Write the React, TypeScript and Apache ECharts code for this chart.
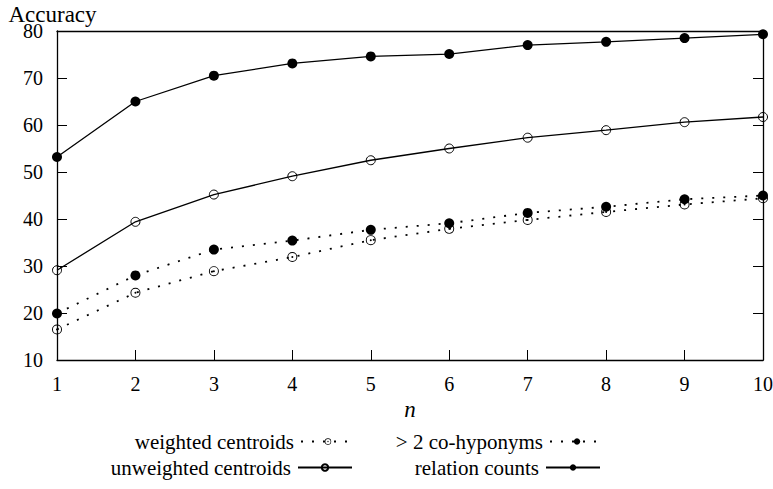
import React, { useEffect, useRef } from "react";
import * as echarts from "echarts";

// n = 1 .. 10
const nValues = [1, 2, 3, 4, 5, 6, 7, 8, 9, 10];
const weightedCentroids = [16.5, 24.3, 28.9, 31.9, 35.5, 37.9, 39.8, 41.5, 43.1, 44.4];
const unweightedCentroids = [29.1, 39.4, 45.2, 49.1, 52.5, 55.0, 57.3, 58.9, 60.6, 61.7];
const coHyponyms = [19.9, 28.0, 33.5, 35.4, 37.7, 39.1, 41.3, 42.6, 44.2, 45.0];
const relationCounts = [53.2, 65.0, 70.5, 73.1, 74.6, 75.1, 77.0, 77.7, 78.5, 79.3];

const seriesNames = [
  "weighted centroids",
  "unweighted centroids",
  "> 2 co-hyponyms",
  "relation counts",
];

const FONT = '"Liberation Serif", "DejaVu Serif", serif';
const INK = "#000";

// ring with a centre dot (circle-dot mark)
const ringDot =
  "path://M0,10 A10,10 0 1,0 20,10 A10,10 0 1,0 0,10 Z " +
  "M1.9,10 A8.1,8.1 0 1,1 18.1,10 A8.1,8.1 0 1,1 1.9,10 Z " +
  "M8,10 A2,2 0 1,0 12,10 A2,2 0 1,0 8,10 Z";

const dotted = { type: [2, 9] as number[], width: 1.8, color: INK, cap: "butt" };
const solid = { type: "solid", width: 1.3, color: INK };

function pairs(values: number[]) {
  return nValues.map((n, i) => [n, values[i]]);
}

export default function App() {
  const ref = useRef<HTMLDivElement>(null);

  useEffect(() => {
    if (!ref.current) return;
    const chart = echarts.init(ref.current, null, { renderer: "svg" });

    const legendBase = {
      orient: "horizontal",
      align: "right",
      itemWidth: 54,
      itemHeight: 8,
      itemGap: 0,
      padding: 0,
      textStyle: { fontFamily: FONT, fontSize: 21, color: INK, padding: [0, 2, 0, 0] },
      selectedMode: false,
    };

    chart.setOption({
      animation: false,
      backgroundColor: "#fff",
      textStyle: { fontFamily: FONT, color: INK },
      grid: {
        left: 57,
        right: 10,
        top: 31,
        bottom: 129,
        containLabel: false,
        outerBoundsMode: "none",
      },
      legend: [
        { ...legendBase, data: [seriesNames[0]], right: 417, top: 431 },
        { ...legendBase, data: [seriesNames[1]], right: 420, top: 457 },
        { ...legendBase, data: [seriesNames[2]], right: 168, top: 431 },
        { ...legendBase, data: [seriesNames[3]], right: 172, top: 457 },
      ],
      xAxis: [
        {
          type: "value",
          min: 1,
          max: 10,
          interval: 1,
          position: "bottom",
          name: "n",
          nameLocation: "middle",
          nameGap: 38,
          nameMoveOverlap: false,
          nameTextStyle: { fontFamily: FONT, fontSize: 23, fontStyle: "italic", color: INK },
          axisLine: { show: true, lineStyle: { color: INK, width: 1.3 } },
          axisTick: { show: true, inside: true, length: 10, lineStyle: { color: INK, width: 1 } },
          axisLabel: { fontFamily: FONT, fontSize: 20, color: INK, margin: 14 },
          splitLine: { show: false },
        },
        {
          type: "value",
          min: 1,
          max: 10,
          interval: 1,
          position: "top",
          axisLine: { show: true, lineStyle: { color: INK, width: 1.3 } },
          axisTick: { show: false },
          axisLabel: { show: false },
          splitLine: { show: false },
        },
      ],
      yAxis: [
        {
          type: "value",
          min: 10,
          max: 80,
          interval: 10,
          position: "left",
          name: "Accuracy",
          nameLocation: "end",
          nameGap: 17,
          nameMoveOverlap: false,
          nameTextStyle: {
            fontFamily: FONT,
            fontSize: 23,
            color: INK,
            align: "center",
            verticalAlign: "middle",
            padding: [0, 9, 0, 0],
          },
          axisLine: { show: true, lineStyle: { color: INK, width: 1.3 } },
          axisTick: { show: true, inside: true, length: 10, lineStyle: { color: INK, width: 1 } },
          axisLabel: { fontFamily: FONT, fontSize: 20, color: INK, margin: 14 },
          splitLine: { show: false },
        },
        {
          type: "value",
          min: 10,
          max: 80,
          interval: 10,
          position: "right",
          axisLine: { show: true, lineStyle: { color: INK, width: 1.3 } },
          axisTick: { show: true, inside: true, length: 10, lineStyle: { color: INK, width: 1 } },
          axisLabel: { show: false },
          splitLine: { show: false },
        },
      ],
      series: [
        {
          name: seriesNames[0],
          type: "line",
          data: pairs(weightedCentroids),
          clip: false,
          symbol: ringDot,
          symbolSize: 10,
          lineStyle: dotted,
          itemStyle: { color: INK },
        },
        {
          name: seriesNames[1],
          type: "line",
          data: pairs(unweightedCentroids),
          clip: false,
          symbol: "circle",
          symbolSize: 9,
          lineStyle: solid,
          itemStyle: { color: "rgba(255,255,255,0)", borderColor: INK, borderWidth: 1 },
        },
        {
          name: seriesNames[2],
          type: "line",
          data: pairs(coHyponyms),
          clip: false,
          symbol: "circle",
          symbolSize: 10,
          lineStyle: dotted,
          itemStyle: { color: INK },
        },
        {
          name: seriesNames[3],
          type: "line",
          data: pairs(relationCounts),
          clip: false,
          symbol: "circle",
          symbolSize: 10,
          lineStyle: solid,
          itemStyle: { color: INK },
        },
      ],
    });

    return () => chart.dispose();
  }, []);

  return (
    <div
      ref={ref}
      style={{ position: "fixed", left: 0, top: 0, width: 773, height: 489, background: "#fff" }}
    />
  );
}
